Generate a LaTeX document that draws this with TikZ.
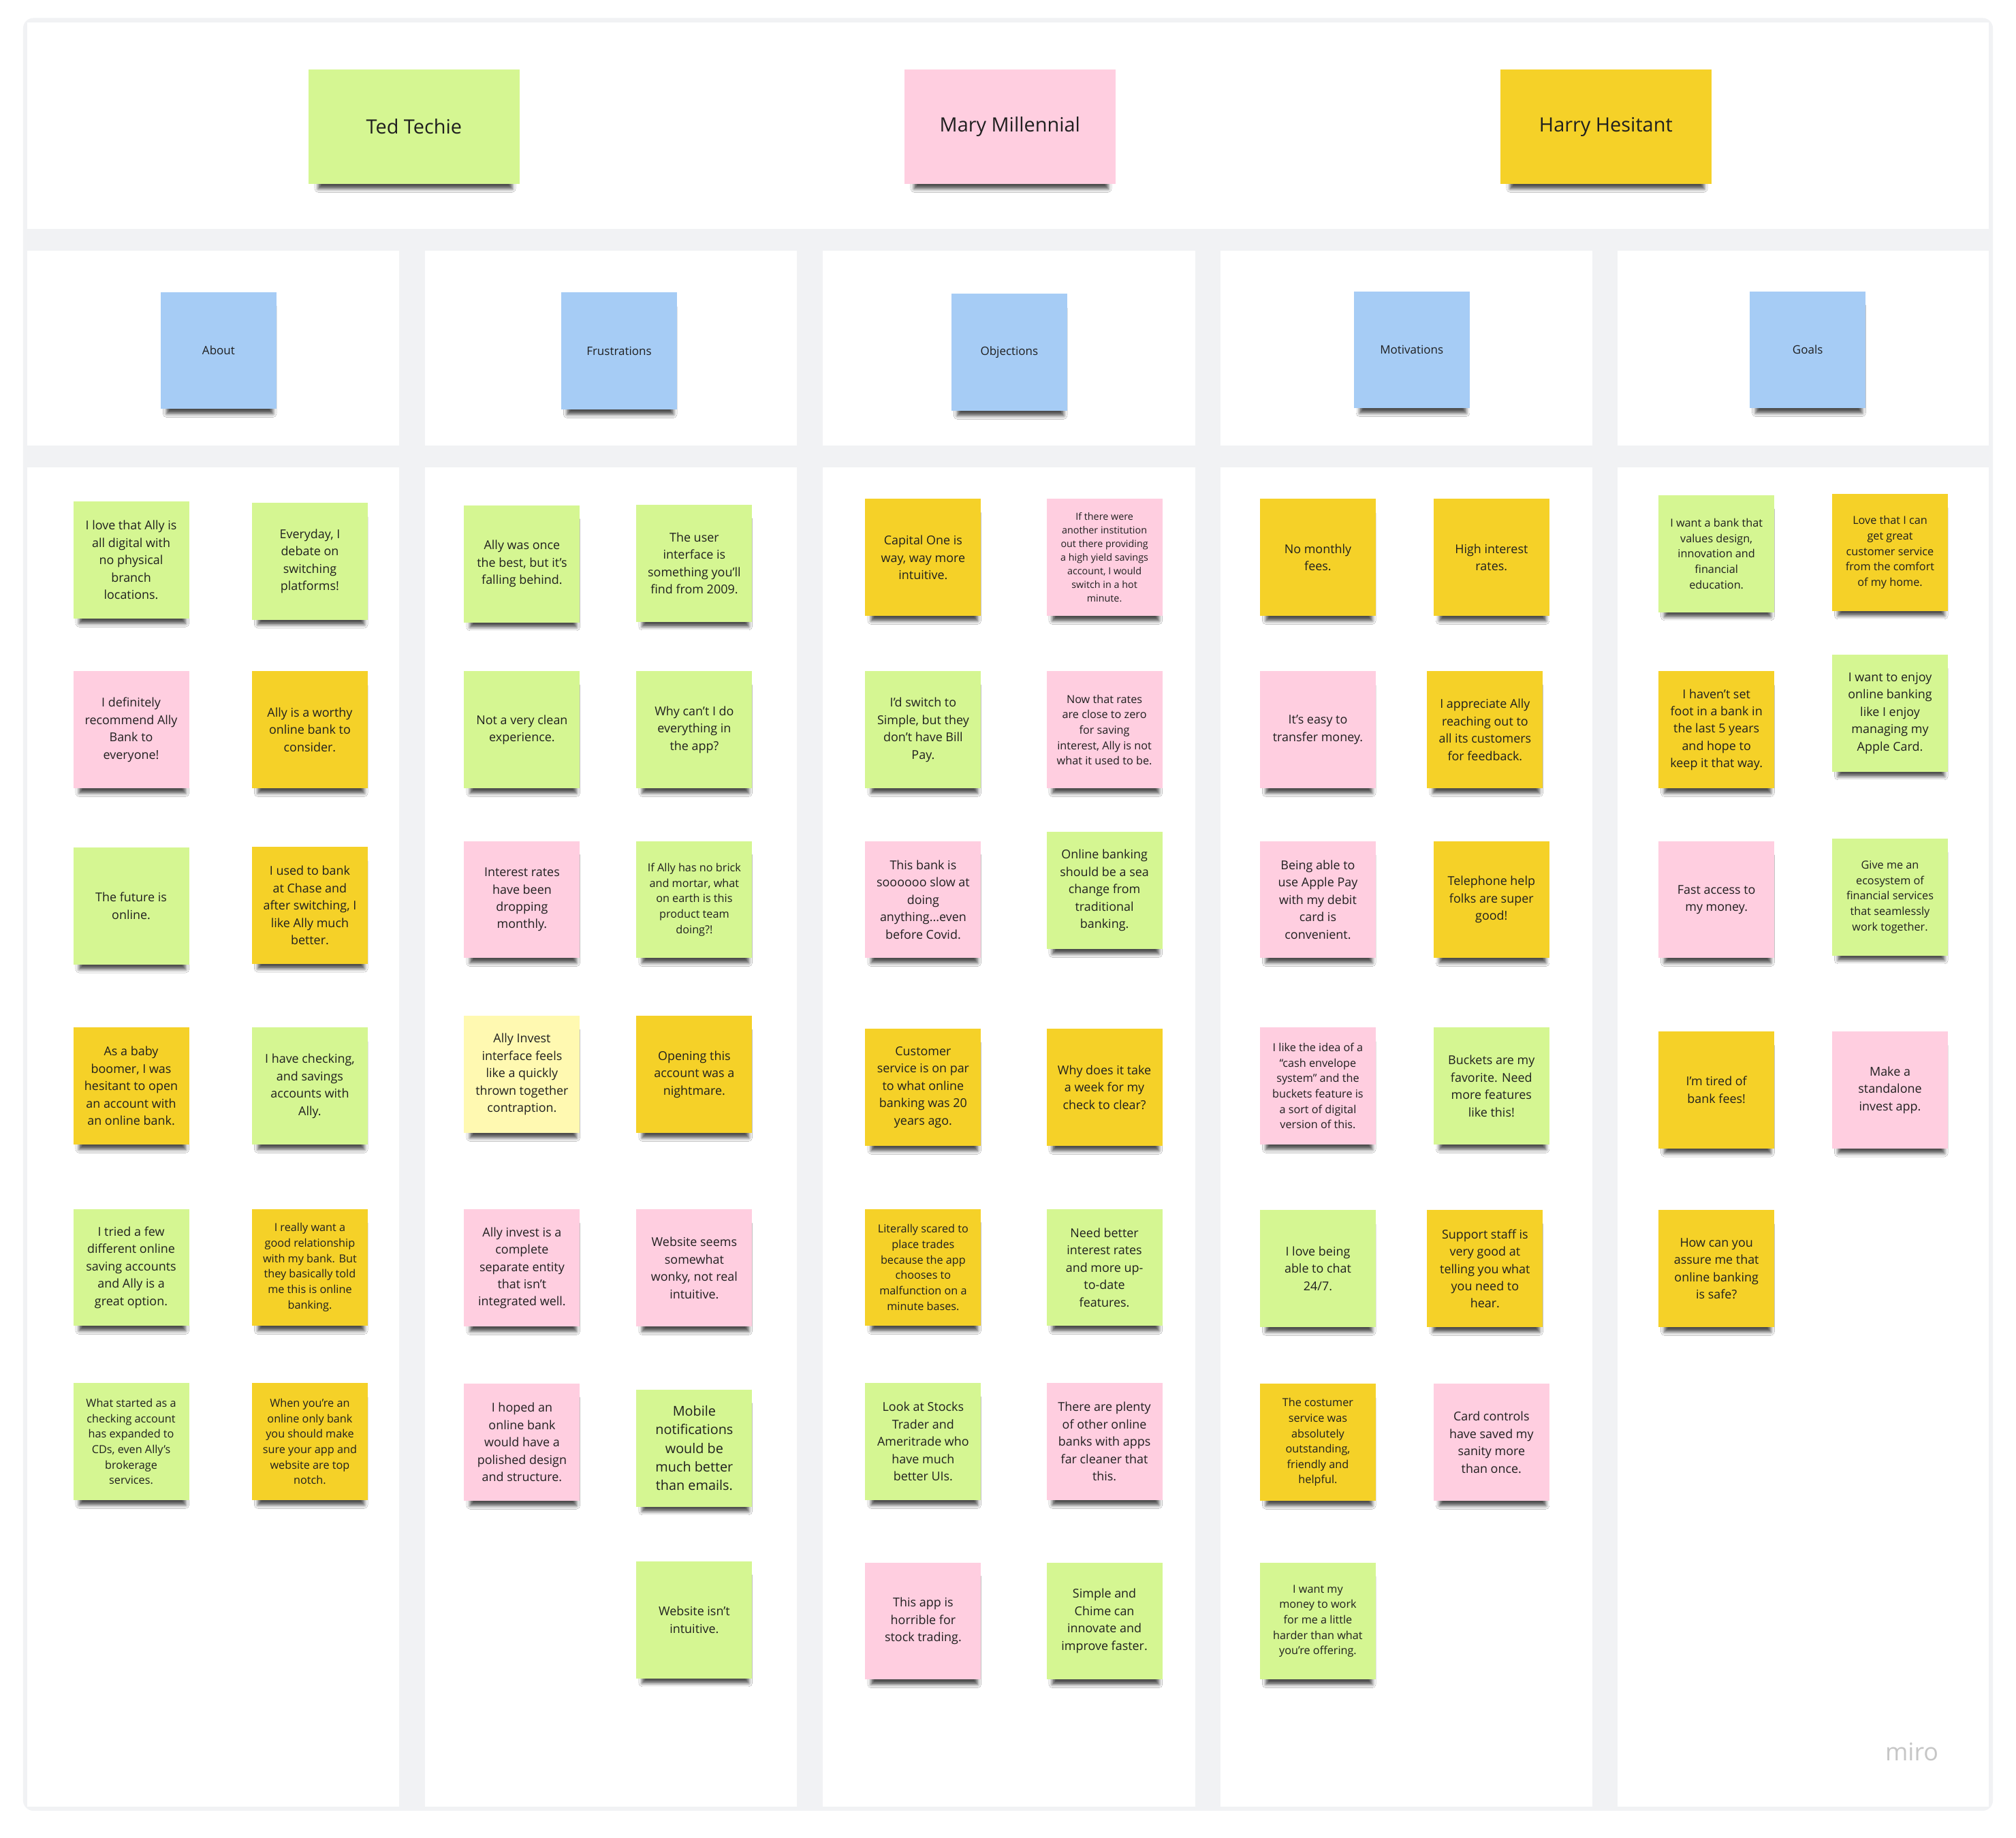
\documentclass[tikz,border=0pt]{standalone}
\usepackage{fontspec}
\setmainfont{Open Sans}
\usetikzlibrary{shadows.blur}
\definecolor{notegreen}{HTML}{D5F692}
\definecolor{notepink}{HTML}{FFCEE0}
\definecolor{noteyellow}{HTML}{F5D128}
\definecolor{notelight}{HTML}{FFF9B1}
\definecolor{noteblue}{HTML}{A6CCF5}
\definecolor{boardgrey}{HTML}{F1F2F4}
\definecolor{inkgrey}{HTML}{1F1F1F}
\tikzset{
  note/.style={rectangle,minimum width=90pt,minimum height=91pt,inner sep=1pt,
    align=center,text=inkgrey,font=\fontsize{9.5}{13.5}\selectfont,
    blur shadow={shadow xshift=1pt,shadow yshift=-8pt,shadow scale=0.92,
      shadow blur radius=3pt,shadow opacity=70}},
  gnote/.style={note,fill=notegreen},
  pnote/.style={note,fill=notepink},
  ynote/.style={note,fill=noteyellow},
  lnote/.style={note,fill=notelight},
  snote/.style={font=\fontsize{8.6}{12}\selectfont},
  tnote/.style={font=\fontsize{7.6}{10.6}\selectfont},
  bnote/.style={font=\fontsize{10.5}{14.5}\selectfont},
  persona/.style={note,minimum width=164pt,minimum height=89pt,font=\fontsize{15.3}{18}\selectfont},
  topic/.style={note,fill=noteblue,font=\fontsize{9}{12}\selectfont}
}
\begin{document}
\begin{tikzpicture}[x=1pt,y=-1pt]
   \useasboundingbox[fill=white] (0,0) rectangle (1568,1429);
   %board
   \fill[boardgrey,rounded corners=8pt] (18,14) rectangle (1550,1408);
   \fill[white] (21,17.5) rectangle (1547,178);
   %column panels
   \fill[white] (21,195) rectangle (310.5,346.5);
   \fill[white] (330.5,195) rectangle (620,346.5);
   \fill[white] (640,195) rectangle (929.5,346.5);
   \fill[white] (949,195) rectangle (1238.5,346.5);
   \fill[white] (1258,195) rectangle (1547,346.5);
   \fill[white] (21,363.5) rectangle (310.5,1405);
   \fill[white] (330.5,363.5) rectangle (620,1405);
   \fill[white] (640,363.5) rectangle (929.5,1405);
   \fill[white] (949,363.5) rectangle (1238.5,1405);
   \fill[white] (1258,363.5) rectangle (1547,1405);
   %personas
   \node[persona,fill=notegreen] (ted) at (322,98.5) {Ted Techie};
   \node[persona,fill=notepink] (mary) at (785.5,98.5) {Mary Millennial};
   \node[persona,fill=noteyellow] (harry) at (1249,98.5) {Harry Hesitant};
   %topics
   \node[topic] (about) at (170,272.5) {About};
   \node[topic] (frus) at (481.5,273) {Frustrations};
   \node[topic] (obj) at (785,274) {Objections};
   \node[topic] (motiv) at (1098,272) {Motivations};
   \node[topic] (goals) at (1406,272) {Goals};
   %about
   \node[gnote] (a1) at (102,435.5) {I love that Ally is\\all digital with\\no physical\\branch\\locations.};
   \node[gnote] (a2) at (241,436.5) {Everyday, I\\debate on\\switching\\platforms!};
   \node[pnote] (a3) at (102,567.5) {I definitely\\recommend Ally\\Bank to\\everyone!};
   \node[ynote] (a4) at (241,567.5) {Ally is a worthy\\online bank to\\consider.};
   \node[gnote] (a5) at (102,704.5) {The future is\\online.};
   \node[ynote] (a6) at (241,704) {I used to bank\\at Chase and\\after switching, I\\like Ally much\\better.};
   \node[ynote] (a7) at (102,844.5) {As a baby\\boomer, I was\\hesitant to open\\an account with\\an online bank.};
   \node[gnote] (a8) at (241,844.5) {I have checking,\\and savings\\accounts with\\Ally.};
   \node[gnote] (a9) at (102,985.5) {I tried a few\\different online\\saving accounts\\and Ally is a\\great option.};
   \node[ynote,snote] (a10) at (241,985.5) {I really want a\\good relationship\\with my bank. But\\they basically told\\me this is online\\banking.};
   \node[gnote,snote] (a11) at (102,1121) {What started as a\\checking account\\has expanded to\\CDs, even Ally's\\brokerage\\services.};
   \node[ynote,snote] (a12) at (241,1121) {When you’re an\\online only bank\\you should make\\sure your app and\\website are top\\notch.};
   %frustrations
   \node[gnote] (f1) at (406,438.5) {Ally was once\\the best, but it's\\falling behind.};
   \node[gnote] (f2) at (540,438) {The user\\interface is\\something you'll\\find from 2009.};
   \node[gnote] (f3) at (406,567.5) {Not a very clean\\experience.};
   \node[gnote] (f4) at (540,567.5) {Why can't I do\\everything in\\the app?};
   \node[pnote] (f5) at (406,699.5) {Interest rates\\have been\\dropping\\monthly.};
   \node[gnote,snote] (f6) at (540,699.5) {If Ally has no brick\\and mortar, what\\on earth is this\\product team\\doing?!};
   \node[lnote] (f7) at (406,835.5) {Ally Invest\\interface feels\\like a quickly\\thrown together\\contraption.};
   \node[ynote] (f8) at (540,835.5) {Opening this\\account was a\\nightmare.};
   \node[pnote] (f9) at (406,986) {Ally invest is a\\complete\\separate entity\\that isn't\\integrated well.};
   \node[pnote] (f10) at (540,986) {Website seems\\somewhat\\wonky, not real\\intuitive.};
   \node[pnote] (f11) at (406,1121.5) {I hoped an\\online bank\\would have a\\polished design\\and structure.};
   \node[gnote,bnote] (f12) at (540,1126) {Mobile\\notifications\\would be\\much better\\than emails.};
   \node[gnote] (f13) at (540,1259.5) {Website isn't\\intuitive.};
   %objections
   \node[ynote] (o1) at (718,433.5) {Capital One is\\way, way more\\intuitive.};
   \node[pnote,tnote] (o2) at (859,433.5) {If there were\\another institution\\out there providing\\a high yield savings\\account, I would\\switch in a hot\\minute.};
   \node[gnote] (o3) at (718,567.5) {I'd switch to\\Simple, but they\\don't have Bill\\Pay.};
   \node[pnote,snote] (o4) at (859,567.5) {Now that rates\\are close to zero\\for saving\\interest, Ally is not\\what it used to be.};
   \node[pnote] (o5) at (718,699.5) {This bank is\\soooooo slow at\\doing\\anything...even\\before Covid.};
   \node[gnote] (o6) at (859,692.5) {Online banking\\should be a sea\\change from\\traditional\\banking.};
   \node[ynote] (o7) at (718,845.5) {Customer\\service is on par\\to what online\\banking was 20\\years ago.};
   \node[ynote] (o8) at (859,845.5) {Why does it take\\a week for my\\check to clear?};
   \node[ynote,snote] (o9) at (718,985.5) {Literally scared to\\place trades\\because the app\\chooses to\\malfunction on a\\minute bases.};
   \node[gnote] (o10) at (859,985.5) {Need better\\interest rates\\and more up-\\to-date\\features.};
   \node[gnote] (o11) at (718,1121) {Look at Stocks\\Trader and\\Ameritrade who\\have much\\better UIs.};
   \node[pnote] (o12) at (859,1121) {There are plenty\\of other online\\banks with apps\\far cleaner that\\this.};
   \node[pnote] (o13) at (718,1260.5) {This app is\\horrible for\\stock trading.};
   \node[gnote] (o14) at (859,1260.5) {Simple and\\Chime can\\innovate and\\improve faster.};
   %motivations
   \node[ynote] (m1) at (1025,433.5) {No monthly\\fees.};
   \node[ynote] (m2) at (1160,433.5) {High interest\\rates.};
   \node[pnote] (m3) at (1025,567.5) {It's easy to\\transfer money.};
   \node[ynote] (m4) at (1155,567.5) {I appreciate Ally\\reaching out to\\all its customers\\for feedback.};
   \node[pnote] (m5) at (1025,699.5) {Being able to\\use Apple Pay\\with my debit\\card is\\convenient.};
   \node[ynote] (m6) at (1160,699.5) {Telephone help\\folks are super\\good!};
   \node[pnote,snote] (m7) at (1025,844.5) {I like the idea of a\\“cash envelope\\system” and the\\buckets feature is\\a sort of digital\\version of this.};
   \node[gnote] (m8) at (1160,844.5) {Buckets are my\\favorite. Need\\more features\\like this!};
   \node[gnote] (m9) at (1025,986.5) {I love being\\able to chat\\24/7.};
   \node[ynote] (m10) at (1155,986.5) {Support staff is\\very good at\\telling you what\\you need to\\hear.};
   \node[ynote,snote] (m11) at (1025,1121.5) {The costumer\\service was\\absolutely\\outstanding,\\friendly and\\helpful.};
   \node[pnote] (m12) at (1160,1121.5) {Card controls\\have saved my\\sanity more\\than once.};
   \node[gnote,snote] (m13) at (1025,1260.5) {I want my\\money to work\\for me a little\\harder than what\\you’re offering.};
   %goals
   \node[gnote,snote] (g1) at (1335,430.5) {I want a bank that\\values design,\\innovation and\\financial\\education.};
   \node[ynote,snote] (g2) at (1470,429.5) {Love that I can\\get great\\customer service\\from the comfort\\of my home.};
   \node[ynote] (g3) at (1335,567.5) {I haven't set\\foot in a bank in\\the last 5 years\\and hope to\\keep it that way.};
   \node[gnote] (g4) at (1470,554.5) {I want to enjoy\\online banking\\like I enjoy\\managing my\\Apple Card.};
   \node[pnote] (g5) at (1335,699.5) {Fast access to\\my money.};
   \node[gnote,snote] (g6) at (1470,697.5) {Give me an\\ecosystem of\\financial services\\that seamlessly\\work together.};
   \node[ynote] (g7) at (1335,847.5) {I'm tired of\\bank fees!};
   \node[pnote] (g8) at (1470,847.5) {Make a\\standalone\\invest app.};
   \node[ynote] (g9) at (1335,986.5) {How can you\\assure me that\\online banking\\is safe?};
   %logo
   \node[text=gray!45,font=\fontsize{19}{20}\selectfont] (logo) at (1487,1362) {miro};
\end{tikzpicture}
\end{document}
